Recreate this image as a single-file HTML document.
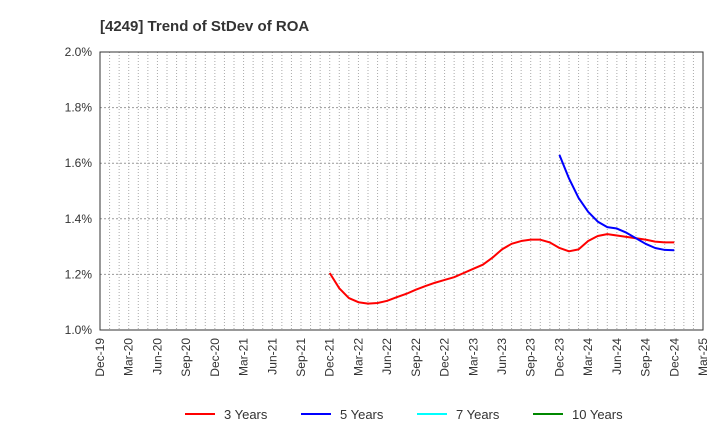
<!DOCTYPE html>
<html><head><meta charset="utf-8"><style>
body{margin:0;background:#fff;font-family:"Liberation Sans",sans-serif;}
text{font-family:"Liberation Sans",sans-serif;}
</style></head><body>
<svg id="chart" width="720" height="440">
<text x="100" y="31" font-size="15" font-weight="bold" fill="#333">[4249]  Trend of StDev of ROA</text>
<g id="grid"></g><g id="axes"></g><g id="series"></g><g id="legend"></g>
</svg>
<script>
const xLabels=["Dec-19","Mar-20","Jun-20","Sep-20","Dec-20","Mar-21","Jun-21","Sep-21","Dec-21","Mar-22","Jun-22","Sep-22","Dec-22","Mar-23","Jun-23","Sep-23","Dec-23","Mar-24","Jun-24","Sep-24","Dec-24","Mar-25"];
const yTicks=[1.0,1.2,1.4,1.6,1.8,2.0];
const red3Start=24;
const red3=[1.205,1.15,1.115,1.10,1.095,1.097,1.105,1.118,1.13,1.145,1.158,1.17,1.18,1.19,1.205,1.22,1.235,1.26,1.29,1.31,1.32,1.325,1.325,1.315,1.295,1.283,1.29,1.32,1.338,1.345,1.34,1.335,1.33,1.325,1.318,1.315,1.315];
const blue5Start=48;
const blue5=[1.63,1.545,1.475,1.425,1.39,1.37,1.365,1.35,1.33,1.31,1.295,1.288,1.287];
const L=100,R=703,T=52,B=330,NM=63;
const xs=m=>L+(R-L)*m/NM, ys=v=>B-(v-1.0)/(2.0-1.0)*(B-T);
const NS="http://www.w3.org/2000/svg";
function mk(p,t,a){const e=document.createElementNS(NS,t);for(const k in a)e.setAttribute(k,a[k]);p.appendChild(e);return e;}
const grid=document.getElementById('grid'),axes=document.getElementById('axes'),ser=document.getElementById('series'),leg=document.getElementById('legend');
for(let m=1;m<NM;m++){const g=mk(grid,'line',{x1:xs(m),x2:xs(m),y1:T,y2:B,stroke:'#aaa','stroke-dasharray':'1,2','stroke-width':1});

}
yTicks.forEach(v=>{const g=mk(grid,'line',{x1:L,x2:R,y1:ys(v),y2:ys(v),stroke:'#999','stroke-dasharray':'2,2','stroke-width':1});


const t=mk(axes,'text',{x:L-8,y:ys(v)+4,'text-anchor':'end','font-size':12,fill:'#333'});t.textContent=v.toFixed(1)+'%';

});
const fr=mk(axes,'rect',{x:L,y:T,width:R-L,height:B-T,fill:'none',stroke:'#333','stroke-width':1});


xLabels.forEach((s,i)=>{const x=xs(i*3);const t=mk(axes,'text',{x:x+4,y:B+8,'text-anchor':'end','font-size':12,fill:'#333',transform:`rotate(-90 ${x+4} ${B+8})`});t.textContent=s;

});
function line(d,s,c,n){const p=mk(ser,'polyline',{points:d.map((v,i)=>xs(s+i)+','+ys(v)).join(' '),fill:'none',stroke:c,'stroke-width':2,'stroke-linejoin':'round'});

}
line(red3,red3Start,'#f00','series-3-years');
line(blue5,blue5Start,'#00f','series-5-years');
[["3 Years","#f00",185],["5 Years","#00f",301],["7 Years","#0ff",417],["10 Years","#080",533]].forEach(([n,c,x])=>{
const g=mk(leg,'g',{});


mk(g,'line',{x1:x,x2:x+30,y1:414,y2:414,stroke:c,'stroke-width':2});
const t=mk(g,'text',{x:x+39,y:419,'font-size':13,fill:'#333'});t.textContent=n;});
</script>
</body></html>
